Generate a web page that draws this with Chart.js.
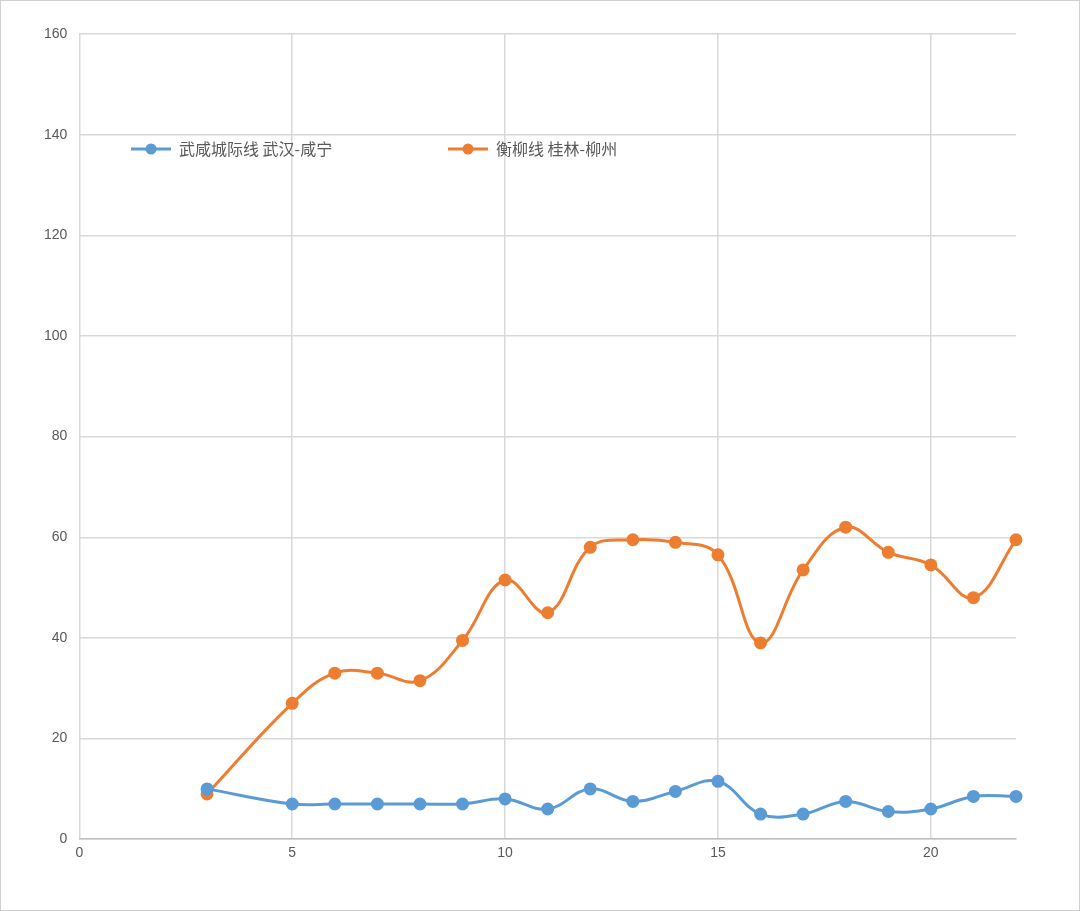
<!DOCTYPE html>
<html><head><meta charset="utf-8">
<script src="https://cdn.jsdelivr.net/npm/chart.js@4"></script>
<style>html,body{margin:0;padding:0;background:#fff}#w{position:absolute;left:0;top:0;width:1078px;height:909px;border:1px solid #d0d0d0}</style>
</head><body><div id="w"><canvas id="c" width="1078" height="909"></canvas></div>
<script>
const xValues = [3,5,6,7,8,9,10,11,12,13,14,15,16,17,18,19,20,21,22];
const wuxianValues = [10,7,7,7,7,7,8,6,10,7.5,9.5,11.5,5,5,7.5,5.5,6,8.5,8.5];
const hengliuValues = [9,27,33,33,31.5,39.5,51.5,45,58,59.5,59,56.5,39,53.5,62,57,54.5,48,59.5];
const seriesNames = ['武咸城际线 武汉-咸宁','衡柳线 桂林-柳州'];
const colors = ['#5B9BD5','#ED7D31'];
const toPts = v => xValues.map((x,i)=>({x, y:v[i]}));
const legendPlugin = {
  id:'lg',
  afterDraw(ch){
    const c=ch.ctx, xs=[130,447], y=148;
    ch.data.datasets.forEach((d,i)=>{
      c.save();
      c.strokeStyle=d.borderColor;c.lineWidth=3;
      c.beginPath();c.moveTo(xs[i],y);c.lineTo(xs[i]+40,y);c.stroke();
      c.fillStyle=d.borderColor;c.beginPath();c.arc(xs[i]+20,y,5.5,0,Math.PI*2);c.fill();
      c.fillStyle='#595959';c.font='16px "Noto Sans CJK SC"';c.textBaseline='middle';
      c.fillText(d.label,xs[i]+48,y);
      c.restore();
    });
  }
};
new Chart(document.getElementById('c'),{
  type:'scatter',
  data:{datasets:[
    {label:seriesNames[0],data:toPts(wuxianValues),showLine:true,borderColor:colors[0],backgroundColor:colors[0],borderWidth:3,pointRadius:5,tension:0.4,clip:false},
    {label:seriesNames[1],data:toPts(hengliuValues),showLine:true,borderColor:colors[1],backgroundColor:colors[1],borderWidth:3,pointRadius:5,tension:0.4,clip:false}
  ]},
  options:{
    responsive:false,animation:false,
    layout:{padding:{left:31,right:63,top:33,bottom:42}},
    plugins:{legend:{display:false},tooltip:{enabled:false}},
    scales:{
      x:{min:0,max:22,afterBuildTicks(a){a.ticks=[0,5,10,15,20].map(v=>({value:v}));},
        ticks:{color:'#595959',font:{size:14},padding:6},
        grid:{color:'#d9d9d9',lineWidth:1.5,drawTicks:false},border:{color:'#bfbfbf',width:1.5}},
      y:{min:0,max:160,ticks:{stepSize:20,color:'#595959',font:{size:14},padding:12},
        grid:{color:'#d9d9d9',lineWidth:1.5,drawTicks:false},border:{display:false}}
    }
  },
  plugins:[legendPlugin]
});
</script></body></html>
